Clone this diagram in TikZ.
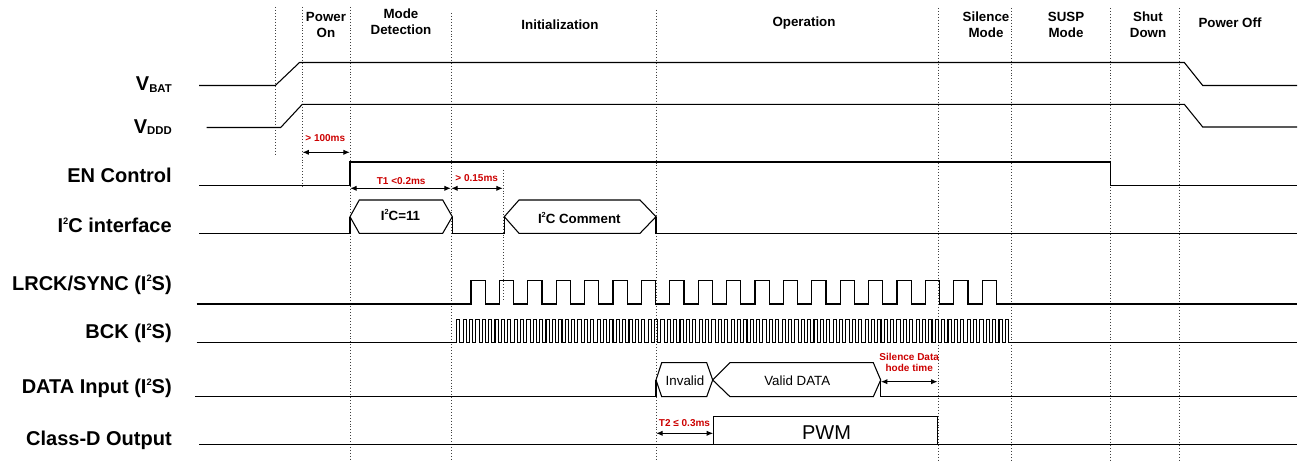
\documentclass[tikz,border=0pt]{standalone}
\usepackage{fontspec}
\setmainfont{Liberation Sans}
\usetikzlibrary{arrows.meta}
\definecolor{dimred}{RGB}{204,0,0}
\newcommand{\bigsup}[1]{\raisebox{6pt}{\fontsize{7}{7}\selectfont #1}}
\newcommand{\smallsup}[1]{\raisebox{4.5pt}{\fontsize{5.5}{5.5}\selectfont #1}}
\newcommand{\bigsub}[1]{\raisebox{-1.2pt}{\fontsize{8.5}{8.5}\selectfont #1}}

\begin{document}
\begin{tikzpicture}[
  x=0.75pt, y=-0.75pt,
  sig/.style={line width=0.8pt, line join=miter},
  grid/.style={black!75, line width=0.6pt, dash pattern=on 0.6pt off 1.6pt},
  lbl/.style={anchor=base east, inner sep=0pt, font=\fontsize{15}{18}\selectfont\bfseries},
  hdr/.style={align=center, inner sep=0pt, font=\fontsize{10}{12}\selectfont\bfseries},
  dim/.style={align=center, inner sep=0pt, text=dimred, font=\fontsize{7.5}{8}\selectfont\bfseries},
  boxtxt/.style={anchor=base, inner sep=0pt, font=\fontsize{10}{12}\selectfont},
  arrow/.style={{Latex[length=5pt,width=4pt]}-{Latex[length=5pt,width=4pt]}, line width=0.9pt}
]
\useasboundingbox (0,0) rectangle (1298,463);

% phase borders
\foreach \gx/\gt/\gb in {275.3/7/154, 302.3/7/186, 350/7/460, 451/13/460, 503/170/300,
  656/10/460, 938.5/8/460, 1011/8/460, 1110.7/8/460, 1179.5/8/460}
  \draw[grid] (\gx,\gt) -- (\gx,\gb);

% phase names
\node[hdr] (hpon)  at (326,24.5)  {Power\\On};
\node[hdr] (hmode) at (401,22)    {Mode\\Detection};
\node[hdr] (hinit) at (560,24.3)  {Initialization};
\node[hdr] (hop)   at (804,23)    {Operation};
\node[hdr] (hsil)  at (986,24.5)  {Silence\\Mode};
\node[hdr] (hsusp) at (1066,24.5) {SUSP\\Mode};
\node[hdr] (hshut) at (1148,24.5) {Shut\\Down};
\node[hdr] (hoff)  at (1230,23)   {Power Off};

% signal names
\node[lbl] (vbat) at (172,90.7)  {V\bigsub{BAT}};
\node[lbl] (vddd) at (172,133.3) {V\bigsub{DDD}};
\node[lbl] (en)   at (172,182.7) {EN Control};
\node[lbl] (i2c)  at (172,232.7) {I\bigsup{2}C interface};
\node[lbl] (lrck) at (172,290)   {LRCK/SYNC (I\bigsup{2}S)};
\node[lbl] (bck)  at (172,338.3) {BCK (I\bigsup{2}S)};
\node[lbl] (data) at (172,393.3) {DATA Input (I\bigsup{2}S)};
\node[lbl] (cls)  at (172,445)   {Class-D Output};

% supplies
\draw[sig] (199,85.5) -- (275.3,85.5) -- (299.5,62.5) -- (1184.3,62.5) -- (1202.7,85.5) -- (1297,85.5);
\draw[sig] (206.7,127.5) -- (280.7,127.5) -- (302.3,104.3) -- (1184.3,104.3) -- (1202.7,127) -- (1297,127);

% enable
\draw[sig] (199,185.7) -- (350,185.7) -- (350,162) -- (1110.5,162) -- (1110.5,185.7) -- (1297,185.7);

% I2C
\draw[sig] (199,233.3) -- (350,233.3) -- (350,216.7);
\draw[sig] (350,216.7) -- (359.3,200) -- (442.7,200) -- (452.3,216.7) -- (442.7,233.3) -- (359.3,233.3) -- cycle;
\draw[sig] (452.3,216.7) -- (452.3,233.3) -- (504.3,233.3) -- (504.3,216.7);
\draw[sig] (504.3,216.7) -- (519,200) -- (640,200) -- (656,216.7) -- (640,233.3) -- (519,233.3) -- cycle;
\draw[sig] (656,216.7) -- (656,233.3) -- (1297,233.3);
\node[boxtxt, font=\fontsize{10}{12}\selectfont\bfseries] (i2cset) at (400.5,221) {I\smallsup{2}C=11};
\node[boxtxt, font=\fontsize{10}{12}\selectfont\bfseries] (i2ccmd) at (579.3,223.3) {I\smallsup{2}C Comment};

% I2S clocks
\draw[sig] (196.7,304) -- (471,304)
  \foreach \i in {1,...,19} { -- ++(0,-23.3) -- ++(14.2,0) -- ++(0,23.3) -- ++(14.2,0) }
  -- (1297,304);
\draw[sig] (196.7,342.5) -- (456.7,342.5)
  \foreach \i in {1,...,87} { -- ++(0,-23.2) -- ++(3.19,0) -- ++(0,23.2) -- ++(3.19,0) }
  -- (1297,342.5);

% data
\draw[sig] (195,396.7) -- (656,396.7) -- (656,380);
\draw[sig] (656,380) -- (661.7,362.7) -- (706.7,362.7) -- (712.7,380) -- (706.7,396.7) -- (661.7,396.7) -- cycle;
\draw[sig] (712.7,380) -- (730,362.7) -- (873.3,362.7) -- (880.7,380) -- (873.3,396.7) -- (730,396.7) -- cycle;
\draw[sig] (880.7,380) -- (880.7,396.7) -- (1297,396.7);
\node[boxtxt] (inval) at (685,385.7) {Invalid};
\node[boxtxt] (valid) at (797.3,385.7) {Valid DATA};

% output
\draw[sig] (199.3,444.3) -- (1297,444.3);
\draw[sig] (713.3,444.3) -- (713.3,416.7) -- (937.7,416.7) -- (937.7,444.3);
\node[boxtxt, font=\fontsize{15}{18}\selectfont] (pwm) at (826.5,439) {PWM};

% timing marks
\coordinate (t100a) at (302.3,152.3); \coordinate (t100b) at (350,152.3);
\coordinate (t1a) at (350,188.3);     \coordinate (t1b) at (451,188.3);
\coordinate (t15a) at (451,188.3);    \coordinate (t15b) at (503,188.3);
\coordinate (t2a) at (656,433.3);     \coordinate (t2b) at (713.3,433.3);
\coordinate (sila) at (880.7,381.7);  \coordinate (silb) at (937.7,381.7);
\draw[arrow] (t100a) -- (t100b);
\draw[arrow] (t1a) -- (t1b);
\draw[arrow] (t15a) -- (t15b);
\draw[arrow] (t2a) -- (t2b);
\draw[arrow] (sila) -- (silb);
\node[dim] (l100) at (325.3,138.3) {> 100ms};
\node[dim] (l1)   at (401.2,181.2) {T1 <0.2ms};
\node[dim] (l15)  at (476.7,178.3) {> 0.15ms};
\node[dim] (l2)   at (684.5,422.8) {T2 ≤ 0.3ms};
\node[dim] (lsil) at (909.2,362.7) {Silence Data\\hode time};

\end{tikzpicture}
\end{document}
